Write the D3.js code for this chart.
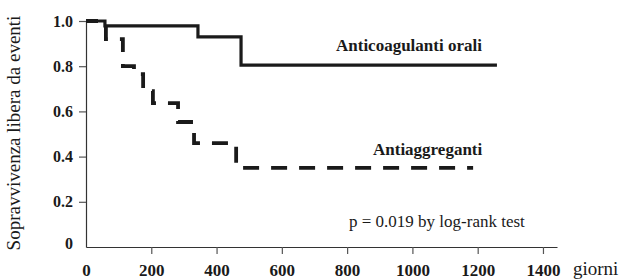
<!DOCTYPE html>
<html>
<head>
<meta charset="utf-8">
<script src="https://cdn.jsdelivr.net/npm/d3@7"></script>
<style>
  html, body { margin: 0; padding: 0; background: #fff; }
  svg { display: block; }
  text { font-family: "Liberation Serif", "Times New Roman", serif; fill: #1a1a1a; }
</style>
</head>
<body>
<svg id="chart" width="621" height="280"></svg>
<script>
// ---- data ----
const xTickValues = [0, 200, 400, 600, 800, 1000, 1200, 1400];
const yTickValues = [0, 0.2, 0.4, 0.6, 0.8, 1.0];

// Anticoagulanti orali (solid): event times (days) and survival after each step
const oralTimes  = [0, 58, 343, 475];
const oralSurv   = [1.0, 0.978, 0.93, 0.805];
const oralEnd    = 1259;

// Antiaggreganti (dashed)
const antiTimes  = [0, 61, 113, 147, 175, 205, 282, 331, 460];
const antiSurv   = [1.0, 0.92, 0.80, 0.765, 0.69, 0.637, 0.553, 0.46, 0.35];
const antiEnd    = 1186;

const seriesLabels = ["Anticoagulanti orali", "Antiaggreganti"];
const yTitle = "Sopravvivenza libera da eventi";
const xTitle = "giorni";
const pText = "p = 0.019 by log-rank test";

// ---- scales ----
const svg = d3.select("#chart");
const x = d3.scaleLinear().domain([0, 1443]).range([86, 557]);
const y = d3.scaleLinear().domain([0, 1]).range([247, 21]);

function stepPoints(times, surv, end) {
  const pts = times.map((t, i) => [t, surv[i]]);
  pts.push([end, surv[surv.length - 1]]);
  return pts;
}
const line = d3.line().x(d => x(d[0])).y(d => y(d[1])).curve(d3.curveStepAfter);

// ---- axes ----
const xAxis = d3.axisBottom(x)
  .tickValues(xTickValues)
  .tickSize(7).tickSizeOuter(0).tickPadding(10)
  .tickFormat(d3.format("d"));
const gx = svg.append("g").attr("transform", `translate(0,${y(0)})`).call(xAxis);
gx.selectAll(".tick").filter(d => d === 0).select("line").remove();

const yAxis = d3.axisLeft(y)
  .tickValues(yTickValues)
  .tickSize(7).tickSizeOuter(0).tickPadding(6)
  .tickFormat(d => d === 0 ? "0" : d3.format(".1f")(d));
const gy = svg.append("g").attr("transform", `translate(${x(0)},0)`).call(yAxis);
gy.selectAll(".tick").filter(d => d === 0).select("line").remove();
gy.selectAll(".tick").filter(d => d === 0).select("text").attr("dy", "0.12em");

[gx, gy].forEach(g => {
  g.select(".domain").attr("stroke", "#333").attr("stroke-width", 1.2);
  g.selectAll(".tick line").attr("stroke", "#555").attr("stroke-width", 1.2);
  g.selectAll(".tick text")
    .attr("font-family", '"Liberation Serif", serif')
    .attr("font-weight", "bold")
    .attr("fill", "#1a1a1a");
});
gx.selectAll(".tick text").attr("font-size", 17);
gy.selectAll(".tick text").attr("font-size", 16);

// ---- curves ----
svg.append("path")
  .datum(stepPoints(antiTimes, antiSurv, antiEnd))
  .attr("d", line)
  .attr("fill", "none")
  .attr("stroke", "#1a1a1a")
  .attr("stroke-width", 3.8)
  .attr("stroke-dasharray", "16,12")
  .attr("stroke-dashoffset", 4)
  .attr("stroke-linecap", "butt");

svg.append("path")
  .datum(stepPoints(oralTimes, oralSurv, oralEnd))
  .attr("d", line)
  .attr("fill", "none")
  .attr("stroke", "#1a1a1a")
  .attr("stroke-width", 3.2)
  .attr("stroke-linejoin", "miter");

// ---- labels ----
svg.append("text").attr("x", 336).attr("y", 51)
  .attr("font-size", 17).attr("font-weight", "bold").text(seriesLabels[0]);
svg.append("text").attr("x", 373).attr("y", 155)
  .attr("font-size", 17).attr("font-weight", "bold").text(seriesLabels[1]);
svg.append("text").attr("x", 349).attr("y", 227)
  .attr("font-size", 17).text(pText);
svg.append("text").attr("x", 573).attr("y", 275)
  .attr("font-size", 19).text(xTitle);
svg.append("text")
  .attr("transform", "translate(20,133) rotate(-90)")
  .attr("text-anchor", "middle")
  .attr("font-size", 19).text(yTitle);
</script>
</body>
</html>
